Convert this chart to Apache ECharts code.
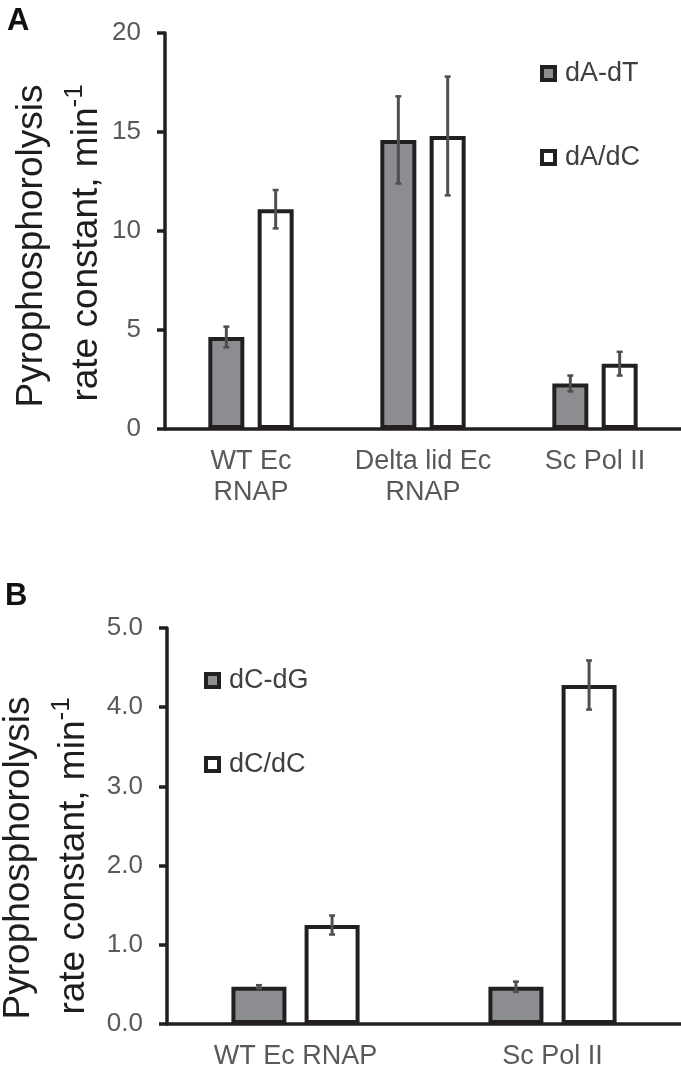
<!DOCTYPE html>
<html>
<head>
<meta charset="utf-8">
<script src="https://cdn.jsdelivr.net/npm/echarts@6/dist/echarts.min.js"></script>
<style>
html,body{margin:0;padding:0;background:#fff;}
#chart{width:681px;height:1079px;}
</style>
</head>
<body>
<div id="chart"></div>
<script>
// ---- Panel A data ----
const catsA = ['WT Ec\nRNAP', 'Delta lid Ec\nRNAP', 'Sc Pol II'];
const dAdT = [4.65, 14.6, 2.3];
const dAdTErr = [0.52, 2.2, 0.4];
const dAdC = [11.1, 14.8, 3.3];
const dAdCErr = [0.97, 3.0, 0.6];
const yTicksA = { min: 0, max: 20, interval: 5 };

// ---- Panel B data ----
const catsB = ['WT Ec RNAP', 'Sc Pol II'];
const dCdG = [0.47, 0.47];
const dCdGErr = [0.02, 0.065];
const dCdC = [1.25, 4.28];
const dCdCErr = [0.12, 0.31];
const yTicksB = { min: 0, max: 5, interval: 1 };

const FONT = 'Liberation Sans, Arial, Helvetica, sans-serif';
const INK = '#231f20';
const LABEL = '#595959';
const GREY = '#8c8d90';
const ERR = '#4f4f4f';

const barWA = 36, gapA = 0.37;
const barWB = 55, gapB = 0.33;

function errSeries(name, vals, errs, xi, yi, offset) {
  return {
    type: 'custom', name: name, xAxisIndex: xi, yAxisIndex: yi, z: 5,
    data: vals.map((v, i) => [i, v, errs[i]]),
    renderItem: function (params, api) {
      const i = api.value(0), v = api.value(1), e = api.value(2);
      const c = api.coord([i, v]);
      const x = c[0] + offset;
      const yt = api.coord([i, v + e])[1];
      const yb = api.coord([i, v - e])[1];
      const st = { stroke: ERR, lineWidth: 3 };
      return { type: 'group', children: [
        { type: 'line', shape: { x1: x, y1: yt, x2: x, y2: yb }, style: st },
        { type: 'line', shape: { x1: x - 3, y1: yt, x2: x + 3, y2: yt }, style: { stroke: ERR, lineWidth: 2.5 } },
        { type: 'line', shape: { x1: x - 3, y1: yb, x2: x + 3, y2: yb }, style: { stroke: ERR, lineWidth: 2.5 } }
      ]};
    }
  };
}

function yAxisCfg(idx, t, fmt) {
  return {
    type: 'value', gridIndex: idx, min: t.min, max: t.max, interval: t.interval,
    splitLine: { show: false },
    axisLine: { show: true, lineStyle: { color: INK, width: 3.5 } },
    axisTick: { show: true, length: 8, lineStyle: { color: INK, width: 3.5 } },
    axisLabel: { color: LABEL, fontSize: 26, fontFamily: FONT, margin: 24, formatter: fmt }
  };
}
function xAxisCfg(idx, cats) {
  return {
    type: 'category', gridIndex: idx, data: cats,
    axisLine: { show: true, lineStyle: { color: INK, width: 3.5 } },
    axisTick: { show: false },
    axisLabel: { color: LABEL, fontSize: 27, fontFamily: FONT, margin: 17, lineHeight: 31, interval: 0 }
  };
}
function barCfg(name, data, xi, yi, color, w, gap) {
  return {
    type: 'bar', name: name, data: data, xAxisIndex: xi, yAxisIndex: yi,
    barWidth: w, barGap: Math.round(gap * 100) + '%',
    itemStyle: { color: color, borderColor: INK, borderWidth: 4 },
    emphasis: { disabled: true }
  };
}
function legendCfg(names, left, top) {
  return {
    data: names, orient: 'vertical', left: left, top: top, padding: 0,
    icon: 'rect', itemWidth: 13, itemHeight: 13, itemGap: 57,
    itemStyle: { borderColor: INK, borderWidth: 4 },
    textStyle: { fontSize: 27, color: '#404040', fontFamily: FONT, padding: [0, 0, 0, 5] },
    selectedMode: false
  };
}

const offA = (barWA + barWA * gapA) / 2;
const offB = (barWB + barWB * gapB) / 2;

const titleStyle = { fontSize: 37, fontFamily: FONT, fill: '#1e1e1e', textAlign: 'center', textVerticalAlign: 'middle', align: 'center', verticalAlign: 'middle' };
const supRich = { sup: { fontSize: 26, fontFamily: FONT, lineHeight: 26, padding: [0, 0, 24, 0], fill: '#1e1e1e', color: '#1e1e1e' } };
const letterText = { fontSize: 31, fontWeight: 'bold', fontFamily: FONT, color: '#111111' };

const option = {
  animation: false,
  backgroundColor: '#ffffff',
  title: [
    { text: 'A', left: 7, top: 6, padding: 0, textStyle: letterText },
    { text: 'B', left: 5, top: 581, padding: 0, textStyle: letterText }
  ],
  grid: [
    { left: 165, top: 33, width: 516, height: 396 },
    { left: 167, top: 628, width: 514, height: 396 }
  ],
  xAxis: [xAxisCfg(0, catsA), xAxisCfg(1, catsB)],
  yAxis: [yAxisCfg(0, yTicksA, v => String(v)), yAxisCfg(1, yTicksB, v => v.toFixed(1))],
  legend: [
    legendCfg(['dA-dT', 'dA/dC'], 540, 60),
    legendCfg(['dC-dG', 'dC/dC'], 204, 667)
  ],
  series: [
    barCfg('dA-dT', dAdT, 0, 0, GREY, barWA, gapA),
    barCfg('dA/dC', dAdC, 0, 0, '#ffffff', barWA, gapA),
    errSeries('errA1', dAdT, dAdTErr, 0, 0, -offA),
    errSeries('errA2', dAdC, dAdCErr, 0, 0, offA),
    barCfg('dC-dG', dCdG, 1, 1, GREY, barWB, gapB),
    barCfg('dC/dC', dCdC, 1, 1, '#ffffff', barWB, gapB),
    errSeries('errB1', dCdG, dCdGErr, 1, 1, -offB),
    errSeries('errB2', dCdC, dCdCErr, 1, 1, offB)
  ],
  graphic: [
    { type: 'text', x: 32, y: 246, rotation: Math.PI / 2, style: Object.assign({ text: 'Pyrophosphorolysis' }, titleStyle) },
    { type: 'text', x: 87, y: 243, rotation: Math.PI / 2, style: Object.assign({ text: 'rate constant, min{sup|-1}', rich: supRich }, titleStyle) },
    { type: 'text', x: 19, y: 858, rotation: Math.PI / 2, style: Object.assign({ text: 'Pyrophosphorolysis' }, titleStyle) },
    { type: 'text', x: 74, y: 856, rotation: Math.PI / 2, style: Object.assign({ text: 'rate constant, min{sup|-1}', rich: supRich }, titleStyle) }
  ]
};

const chart = echarts.init(document.getElementById('chart'), null, { renderer: 'canvas' });
chart.setOption(option);
</script>
</body>
</html>
